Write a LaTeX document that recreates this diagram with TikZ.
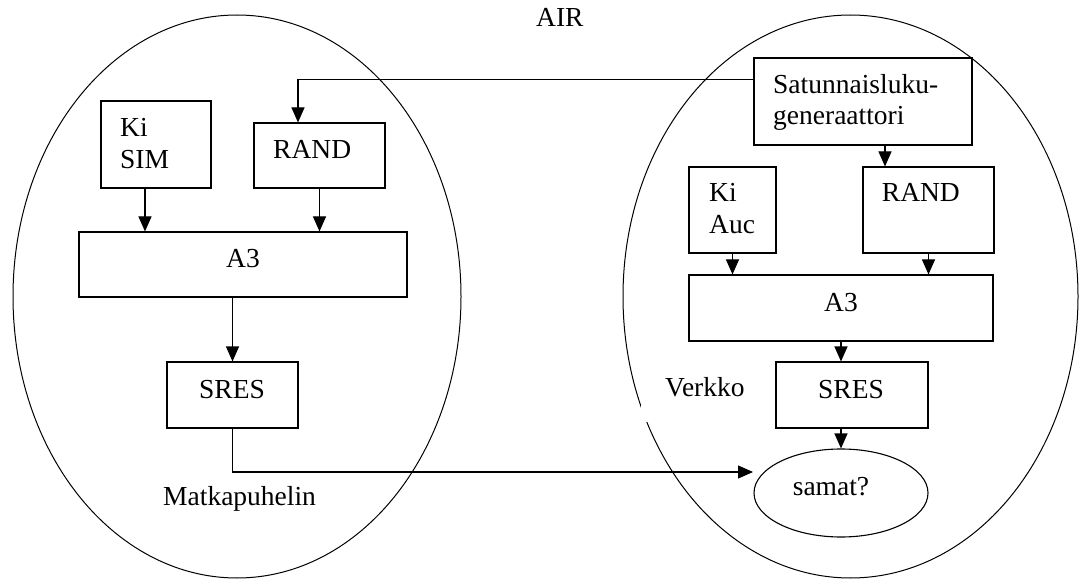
\documentclass[tikz,border=0pt]{standalone}
\usepackage{fontspec}
\setmainfont{Liberation Serif}
\usetikzlibrary{arrows.meta,shapes.geometric}
\begin{document}
\begin{tikzpicture}[x=1pt,y=-1pt,
  font=\fontsize{27.5}{32}\selectfont,
  zone/.style={draw, ellipse, line width=1pt, inner sep=0pt},
  box/.style={draw, line width=1.1pt, inner sep=0pt},
  txt/.style={inner sep=0pt, anchor=base west},
  ctxt/.style={inner sep=0pt, anchor=base},
  arr/.style={line width=1.1pt, -{Triangle[length=15pt,width=13pt]}}]
\useasboundingbox (0,0) rectangle (1085,580);

% the two domains: mobile phone and network
\node[zone, minimum width=448pt, minimum height=563pt] (phone) at (237,296.5) {};
\node[zone, minimum width=455pt, minimum height=563pt] (net) at (850.5,296.5) {};
\fill[white] (641,368) rectangle (774,422);

% labels
\node[txt] (air) at (536,26.7) {AIR};
\node[txt] (matka) at (163,505) {Matkapuhelin};
\node[txt] (verkko) at (665,396.7) {Verkko};

% mobile phone side
\node[box, minimum width=110pt, minimum height=87pt] (kisim) at (156,144.5) {};
\node[txt] (kisimA) at (120,136.7) {Ki};
\node[txt] (kisimB) at (120,168.3) {SIM};
\node[box, minimum width=131pt, minimum height=65pt] (randL) at (319.5,155.5) {};
\node[txt] (randLt) at (273,159) {RAND};
\node[box, minimum width=328pt, minimum height=65pt] (a3L) at (243,264.5) {};
\node[ctxt] (a3Lt) at (243,268) {A3};
\node[box, minimum width=131pt, minimum height=66pt] (sresL) at (232.5,395) {};
\node[ctxt] (sresLt) at (232,398) {SRES};

% network side
\node[box, minimum width=218pt, minimum height=87pt] (gen) at (863,101.5) {};
\node[txt] (genA) at (773,93.3) {Satunnaisluku-};
\node[txt] (genB) at (773,125) {generaattori};
\node[box, minimum width=87pt, minimum height=86pt] (kiauc) at (732.5,210) {};
\node[txt] (kiaucA) at (709,201.7) {Ki};
\node[txt] (kiaucB) at (709,233.3) {Auc};
\node[box, minimum width=131pt, minimum height=86pt] (randR) at (928.5,210) {};
\node[txt] (randRt) at (881.7,201.7) {RAND};
\node[box, minimum width=304pt, minimum height=66pt] (a3R) at (841,308) {};
\node[ctxt] (a3Rt) at (841,311.7) {A3};
\node[box, minimum width=152pt, minimum height=66pt] (sresR) at (852,395) {};
\node[ctxt] (sresRt) at (851,398) {SRES};
\node[zone, line width=1.1pt, minimum width=174pt, minimum height=88pt] (samat) at (841,493) {};
\node[ctxt] (samatt) at (831,495) {samat?};

% connectors
\coordinate (cmpin) at (753,472);
\draw[arr] ([yshift=-22.5pt]gen.north west) -| ([xshift=-21.5pt]randL.north);
\draw[arr] ([xshift=-11pt]kisim.south) -- ([xshift=-11pt]kisim.south |- a3L.north);
\draw[arr] (randL.south) -- (randL.south |- a3L.north);
\draw[arr] (a3L.south -| sresL.south) -- (sresL.north);
\draw[arr] (sresL.south) |- (cmpin);

\draw[arr] (gen.south -| 885,0) -- (randR.north -| 885,0);
\draw[arr] (kiauc.south) -- (kiauc.south |- a3R.north);
\draw[arr] (randR.south) -- (randR.south |- a3R.north);
\draw[arr] (a3R.south) -- (a3R.south |- sresR.north);
\draw[arr] (sresR.south -| a3R.south) -- (samat.north -| a3R.south);
\end{tikzpicture}
\end{document}
